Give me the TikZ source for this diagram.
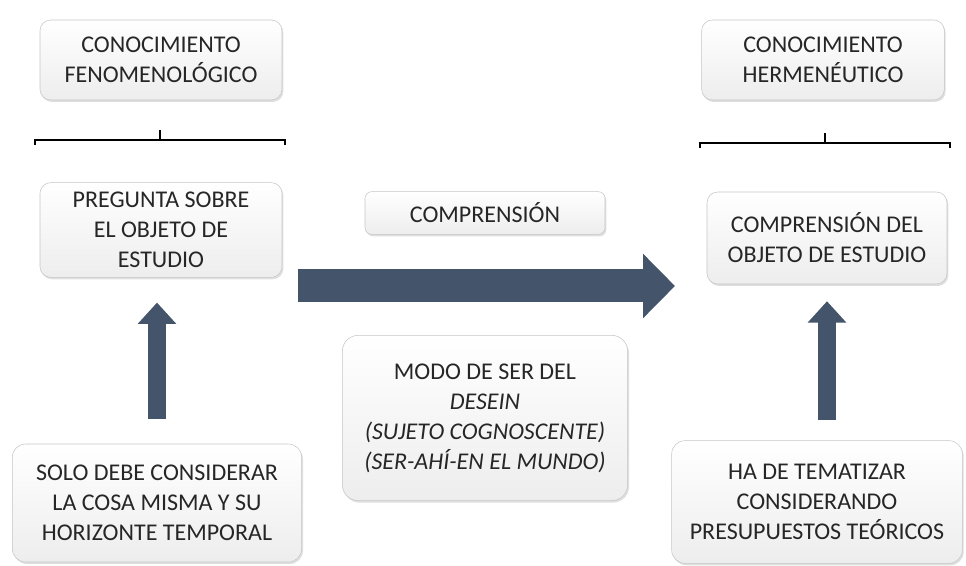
\documentclass[tikz,border=0pt]{standalone}
\usepackage{fontspec}
\setmainfont{Carlito}
\usepackage{tikz}
\usetikzlibrary{arrows.meta,shadows}
\definecolor{arrowblue}{RGB}{68,84,106}
\definecolor{textgray}{RGB}{38,38,38}
\begin{document}
\begin{tikzpicture}[x=0.75pt,y=-0.75pt]
         \tikzset{box/.style={draw=gray!45,rounded corners=8pt,top color=white,bottom color=gray!14,
            drop shadow={shadow xshift=1pt,shadow yshift=-1.5pt,opacity=0.25},
            align=center,text=textgray,font=\fontsize{18}{22.5}\selectfont,inner sep=2pt}}
         \tikzset{bigarrow/.style={draw=arrowblue,line width=24.75pt,-{Triangle[length=24pt,width=47pt]}}}
         \tikzset{uparrow/.style={draw=arrowblue,line width=14pt,-{Triangle[length=16pt,width=28pt]}}}
         \useasboundingbox (0,0) rectangle (966,566);
         \node[box,minimum width=181.5pt,minimum height=60pt] (fen) at (161,60) {CONOCIMIENTO\\FENOMENOLÓGICO};
         \node[box,minimum width=182pt,minimum height=60pt] (herm) at (823,60) {CONOCIMIENTO\\HERMENÉUTICO};
         \node[box,minimum width=181.5pt,minimum height=71pt] (preg) at (161,230) {PREGUNTA SOBRE\\EL OBJETO DE\\ESTUDIO};
         \node[box,minimum width=180pt,minimum height=69pt] (compdel) at (827,238) {COMPRENSIÓN DEL\\OBJETO DE ESTUDIO};
         \node[box,minimum width=180pt,minimum height=32pt,rounded corners=5pt] (comp) at (485,213) {COMPRENSIÓN};
         \node[box,minimum width=214pt,minimum height=124pt,rounded corners=12pt] (modo) at (485,418)
            {MODO DE SER DEL\\\textit{DESEIN}\\\textit{(SUJETO COGNOSCENTE)}\\\textit{(SER-AHÍ-EN EL MUNDO)}};
         \node[box,minimum width=217pt,minimum height=88.5pt,rounded corners=10pt] (solo) at (157,503) {SOLO DEBE CONSIDERAR\\LA COSA MISMA Y SU\\HORIZONTE TEMPORAL};
         \node[box,minimum width=218pt,minimum height=92pt,rounded corners=10pt] (ha) at (817,502) {HA DE TEMATIZAR\\CONSIDERANDO\\PRESUPUESTOS TEÓRICOS};
         \foreach \cx/\cy in {160/140,825/143}
            \draw[line width=1pt] (\cx-125,\cy+5) -- (\cx-125,\cy) -- (\cx+125,\cy) -- (\cx+125,\cy+5)
               (\cx,\cy) -- (\cx,\cy-10);
         \coordinate (bigs) at (298,286);
         \coordinate (bigt) at (675,286);
         \draw[bigarrow] (bigs) -- (bigt);
         \draw[uparrow,shorten <=18.75pt,shorten >=18.75pt] (solo.north) -- (solo.north |- preg.south);
         \draw[uparrow,shorten <=15pt,shorten >=12.75pt] (compdel.south |- ha.north) -- (compdel.south);
\end{tikzpicture}
\end{document}
